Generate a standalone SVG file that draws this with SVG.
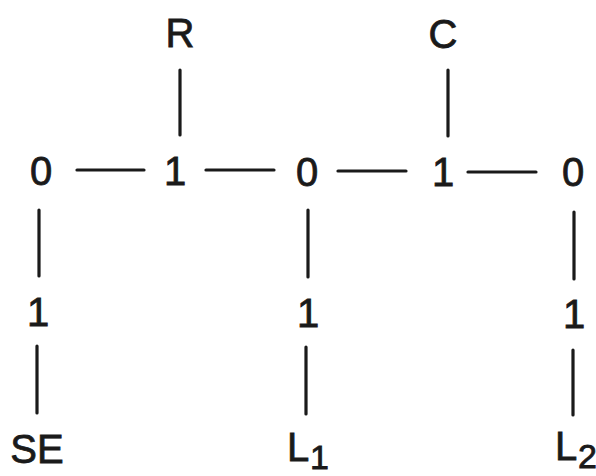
<svg xmlns="http://www.w3.org/2000/svg" width="596" height="476" viewBox="0 0 596 476">
<style>
text{font-family:"Liberation Sans",Arial,sans-serif;font-size:40px;fill:#1a1a1a;stroke:#1a1a1a;stroke-width:0.8;text-anchor:middle}
.sub{font-size:34px;text-anchor:start}
line{stroke:#1a1a1a;stroke-width:3.2;stroke-linecap:round}
</style>
<rect width="596" height="476" fill="#fff"/>
<g id="connectors">
<line x1="180" y1="70" x2="180" y2="135"/>
<line x1="448" y1="70" x2="448" y2="136"/>
<line x1="77" y1="170" x2="144" y2="170"/>
<line x1="206" y1="170" x2="274" y2="170"/>
<line x1="338" y1="171" x2="406" y2="171"/>
<line x1="468" y1="172" x2="536" y2="172"/>
<line x1="39" y1="210" x2="39" y2="276"/>
<line x1="37" y1="346" x2="37" y2="413"/>
<line x1="308" y1="210" x2="308" y2="277"/>
<line x1="306" y1="347" x2="306" y2="414"/>
<line x1="574" y1="212" x2="574" y2="279"/>
<line x1="573" y1="350" x2="573" y2="415"/>
</g>
<g id="R"><text x="180" y="47">R</text></g>
<g id="C"><text x="443" y="48">C</text></g>
<g id="n0a"><text x="41" y="185">0</text></g>
<g id="n1a"><text x="175" y="185">1</text></g>
<g id="n0b"><text x="307" y="186">0</text></g>
<g id="n1b"><text x="443" y="186">1</text></g>
<g id="n0c"><text x="573" y="186">0</text></g>
<g id="n1c"><text x="38" y="326">1</text></g>
<g id="n1d"><text x="308" y="327">1</text></g>
<g id="n1e"><text x="574" y="328">1</text></g>
<g id="SE"><text x="37" y="463">SE</text></g>
<g id="L1"><text x="298" y="461">L</text><text class="sub" x="310" y="469">1</text></g>
<g id="L2"><text x="566" y="460">L</text><text class="sub" x="578" y="468">2</text></g>
</svg>
